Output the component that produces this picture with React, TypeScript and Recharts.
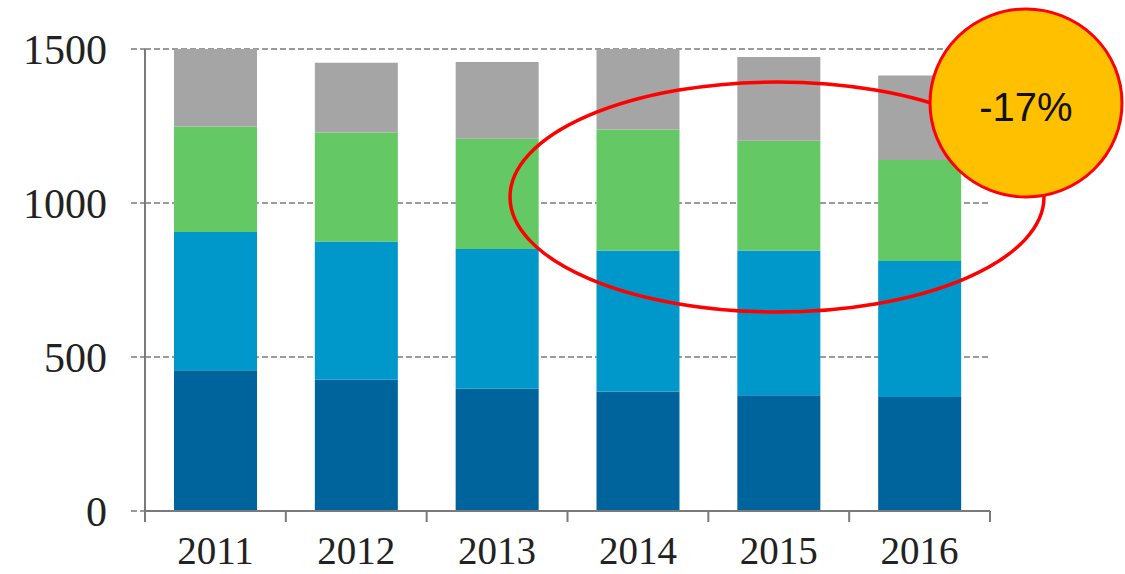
import { BarChart, Bar, XAxis, YAxis, CartesianGrid } from 'recharts'

const years = ['2011', '2012', '2013', '2014', '2015', '2016']
const seg1 = [457, 426, 397, 388, 376, 370]
const seg2 = [449, 449, 454, 458, 470, 442]
const seg3 = [342, 354, 358, 393, 356, 328]
const seg4 = [252, 226, 249, 261, 272, 274]
const yTicks = [0, 500, 1000, 1500]

const COLORS = ['#00649c', '#0098cb', '#64c864', '#a5a5a5']
const AXIS = '#7a7a7a'
const SERIF = '"Liberation Serif", "Times New Roman", serif'
const LABEL_GAP = 25

const data = years.map((year, i) => ({
  year,
  s1: seg1[i],
  s2: seg2[i],
  s3: seg3[i],
  s4: seg4[i],
}))

// year label plus the small tick marks sitting on the category boundaries
function YearTick(props: any) {
  const { x, y, payload, index, visibleTicksCount } = props
  const half = payload.offset ?? 0
  const axisY = y - LABEL_GAP
  const last = index === visibleTicksCount - 1
  return (
    <g>
      <line x1={x - half} x2={x - half} y1={axisY} y2={axisY + 11} stroke={AXIS} strokeWidth={2} />
      {last && <line x1={x + half} x2={x + half} y1={axisY} y2={axisY + 11} stroke={AXIS} strokeWidth={2} />}
      <text x={x} y={y} dy="0.71em" textAnchor="middle" fontSize={39} fontFamily={SERIF} fill="#222">
        {payload.value}
      </text>
    </g>
  )
}

export default function App() {
  return (
    <div style={{ position: 'absolute', left: 0, top: 0, width: 1125, height: 574, background: '#fff' }}>
      <BarChart width={1125} height={574} data={data} margin={{ top: 49, right: 135, bottom: 0, left: 0 }}>
        <CartesianGrid vertical={false} stroke={AXIS} strokeWidth={1.5} strokeDasharray="6 3" />
        <XAxis
          dataKey="year"
          height={63}
          axisLine={{ stroke: AXIS, strokeWidth: 2 }}
          tickLine={false}
          tickSize={0}
          tickMargin={LABEL_GAP}
          tick={<YearTick />}
        />
        <YAxis
          width={145}
          domain={[0, 1500]}
          ticks={yTicks}
          interval={0}
          axisLine={{ stroke: AXIS, strokeWidth: 2 }}
          tickLine={{ stroke: AXIS, strokeWidth: 1.5, strokeDasharray: '6 3' }}
          tickSize={14}
          tickMargin={24}
          tick={{ fontSize: 42, fontFamily: SERIF, fill: '#222' }}
        />
        <Bar dataKey="s1" stackId="a" fill={COLORS[0]} barSize={83} isAnimationActive={false} />
        <Bar dataKey="s2" stackId="a" fill={COLORS[1]} barSize={83} isAnimationActive={false} />
        <Bar dataKey="s3" stackId="a" fill={COLORS[2]} barSize={83} isAnimationActive={false} />
        <Bar dataKey="s4" stackId="a" fill={COLORS[3]} barSize={83} isAnimationActive={false} />
      </BarChart>
      {/* annotation overlay */}
      <svg width={1125} height={574} style={{ position: 'absolute', left: 0, top: 0, pointerEvents: 'none' }}>
        <ellipse cx={777} cy={197} rx={267} ry={115} fill="none" stroke="#ff0000" strokeWidth={3.5} />
        <ellipse cx={1026} cy={103} rx={96} ry={94} fill="#ffc000" stroke="#ff0000" strokeWidth={3} />
        <text x={1026} y={121} textAnchor="middle" fontSize={40} fontFamily='"Liberation Sans", Arial, sans-serif' fill="#111">
          -17%
        </text>
      </svg>
    </div>
  )
}
